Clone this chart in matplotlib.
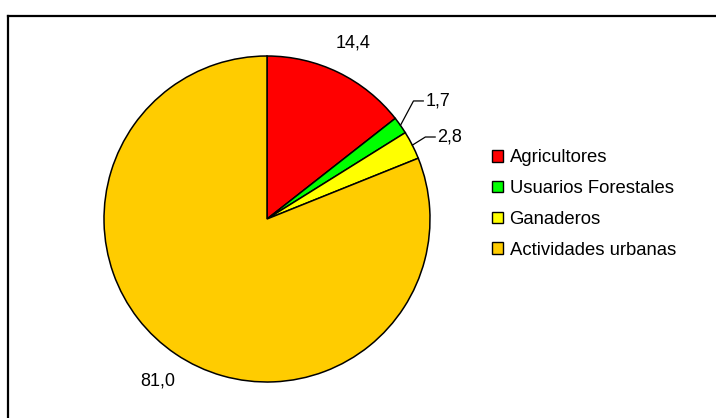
import numpy as np
import matplotlib.pyplot as plt
from matplotlib.patches import Patch
from matplotlib.lines import Line2D

plt.rcParams["font.family"] = ["Liberation Sans", "DejaVu Sans"]

categories = ["Agricultores", "Usuarios Forestales", "Ganaderos", "Actividades urbanas"]
values = [14.4, 1.7, 2.8, 81.0]
labels = ["14,4", "1,7", "2,8", "81,0"]
colors = ["#FF0000", "#00FF00", "#FFFF00", "#FFCC00"]

W, H = 716, 418
fig = plt.figure(figsize=(W / 100, H / 100), dpi=100)

# outer frame (only top and left edges visible in the crop)
fig.add_artist(Line2D([8 / W, 1], [1 - 16 / H, 1 - 16 / H], color="black", lw=1.6))
fig.add_artist(Line2D([8 / W, 8 / W], [1 - 16 / H, 0], color="black", lw=1.6))

cx, cy, r = 267, 219, 163
ax = fig.add_axes([(cx - r) / W, (H - cy - r) / H, 2 * r / W, 2 * r / H])
wedges, _ = ax.pie(values, colors=colors, startangle=90, counterclock=False,
                   radius=1, wedgeprops=dict(edgecolor="black", linewidth=1.1))
ax.set_xlim(-1, 1)
ax.set_ylim(-1, 1)
ax.set_aspect("equal")
ax.axis("off")

# labels: big slices get plain labels, small ones get leader lines
start = 90.0
total = sum(values)
for i, v in enumerate(values):
    span = v / total * 360
    mid = np.radians(start - span / 2)
    start -= span
    x, y = np.cos(mid), np.sin(mid)
    if v > 5:
        ax.text(1.2 * x, 1.2 * y, labels[i], ha="center", va="center",
                fontsize=13, clip_on=False)
    else:
        ex, ey = x * 1.0, y * 1.0
        lift = 0.15 if i == 1 else 0.05
        kx, ky = ex + 0.08, ey + lift
        ax.plot([ex, kx, kx + 0.06], [ey, ky, ky], color="black", lw=0.9,
                clip_on=False)
        ax.text(kx + 0.075, ky, labels[i], ha="left", va="center",
                fontsize=13, clip_on=False)

handles = [Patch(facecolor=c, edgecolor="black", linewidth=1.0) for c in colors]
fig.legend(handles, categories, loc="center left",
           bbox_to_anchor=(492 / W, 1 - 204 / H), frameon=False, fontsize=13.3,
           handlelength=0.57, handleheight=0.57, handletextpad=0.38,
           labelspacing=0.74, borderpad=0, borderaxespad=0)

fig.savefig("out.png", dpi=100)
